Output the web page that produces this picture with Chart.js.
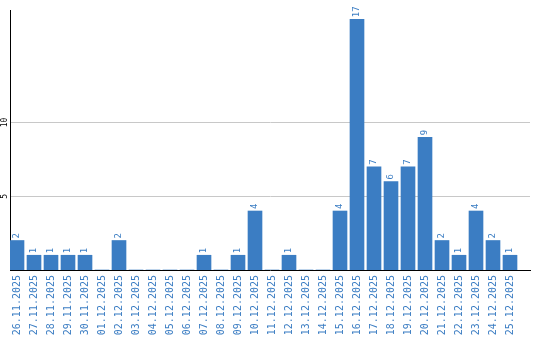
<!DOCTYPE html>
<html>
<head>
<meta charset="utf-8">
<script src="https://cdn.jsdelivr.net/npm/chart.js@4.4.1/dist/chart.umd.min.js"></script>
<style>
  html, body { margin: 0; padding: 0; background: #fff; }
  canvas { display: block; }
</style>
</head>
<body>
<canvas id="c" width="540" height="340"></canvas>
<script>
// daily counts, 26.11.2025 .. 25.12.2025
var dates = ["26.11.2025","27.11.2025","28.11.2025","29.11.2025","30.11.2025",
  "01.12.2025","02.12.2025","03.12.2025","04.12.2025","05.12.2025","06.12.2025",
  "07.12.2025","08.12.2025","09.12.2025","10.12.2025","11.12.2025","12.12.2025",
  "13.12.2025","14.12.2025","15.12.2025","16.12.2025","17.12.2025","18.12.2025",
  "19.12.2025","20.12.2025","21.12.2025","22.12.2025","23.12.2025","24.12.2025",
  "25.12.2025"];
var counts = [2,1,1,1,1,0,2,0,0,0,0,1,0,1,4,0,1,0,0,4,17,7,6,7,9,2,1,4,2,1];
var yTicks = [5, 10];

var blue = "#3b7dc3";
var mono = "'DejaVu Sans Mono', monospace";

// value labels above the bars, rotated like the axis labels
var barLabels = {
  id: "barLabels",
  afterDatasetsDraw: function(chart) {
    var ctx = chart.ctx;
    var meta = chart.getDatasetMeta(0);
    ctx.save();
    ctx.fillStyle = blue;
    ctx.font = "9px " + mono;
    ctx.textAlign = "left";
    ctx.textBaseline = "middle";
    meta.data.forEach(function(bar, i) {
      if (!counts[i]) return;
      ctx.save();
      ctx.translate(bar.x, bar.y - 2);
      ctx.rotate(-Math.PI / 2);
      ctx.fillText(String(counts[i]), 0, 0);
      ctx.restore();
    });
    ctx.restore();
  }
};

new Chart(document.getElementById("c"), {
  type: "bar",
  data: {
    datasets: [{
      data: dates.map(function(d, i) { return { x: i, y: counts[i] }; }),
      backgroundColor: blue,
      borderWidth: 0,
      barThickness: 14
    }]
  },
  options: {
    responsive: false,
    animation: false,
    layout: { padding: { top: 10, right: 10, left: 0, bottom: 0 } },
    plugins: { legend: { display: false }, tooltip: { enabled: false } },
    scales: {
      x: {
        type: "linear",
        offset: false,
        min: -7 / 17,
        max: -7 / 17 + 520 / 17,
        afterBuildTicks: function(s) {
          s.ticks = dates.map(function(d, i) { return { value: i }; });
        },
        afterFit: function(s) { s.height = 70; },
        grid: { display: false, drawTicks: false },
        border: { color: "#000", width: 1 },
        ticks: {
          autoSkip: false,
          minRotation: 90,
          maxRotation: 90,
          padding: 5,
          color: blue,
          font: { family: mono, size: 10 },
          callback: function(v) { return dates[v]; }
        }
      },
      y: {
        min: 0,
        max: 17.63,
        afterBuildTicks: function(s) {
          s.ticks = yTicks.map(function(v) { return { value: v }; });
        },
        afterFit: function(s) { s.width = 10; },
        grid: { color: "#c8c8c8", drawTicks: false },
        border: { color: "#000", width: 1 },
        ticks: {
          minRotation: 90,
          maxRotation: 90,
          crossAlign: "center",
          padding: 0,
          color: "#000",
          font: { family: mono, size: 8 }
        }
      }
    }
  },
  plugins: [barLabels]
});
</script>
</body>
</html>
